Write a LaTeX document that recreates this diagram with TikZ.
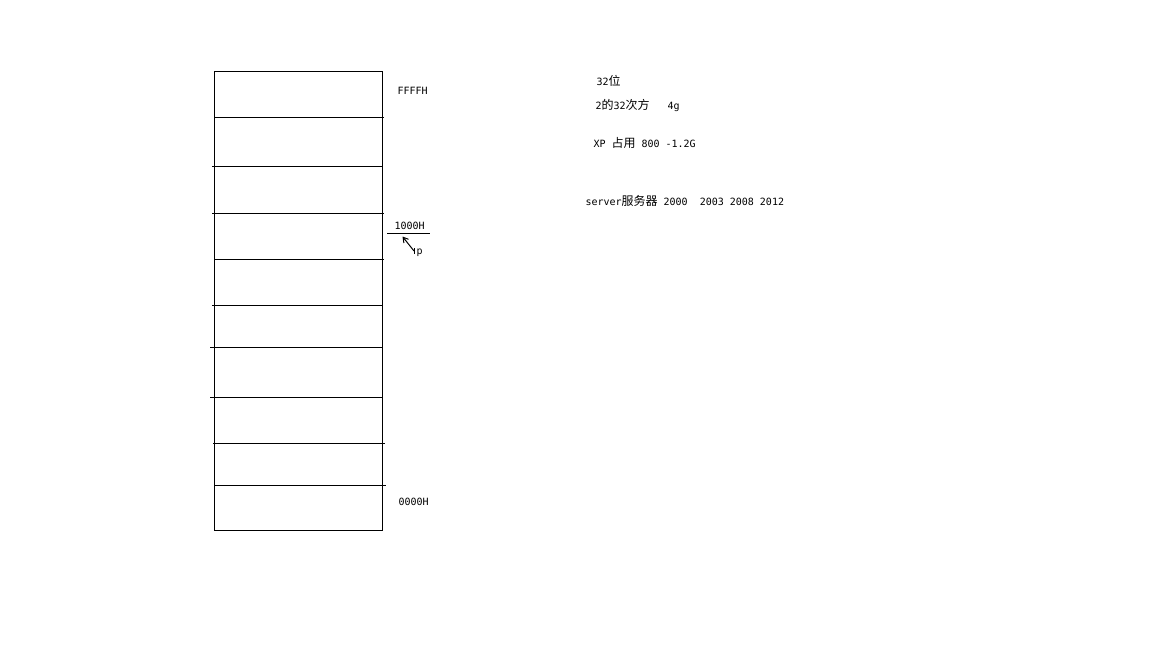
\documentclass[tikz,border=0pt]{standalone}
\usepackage{fontspec}
\setmonofont{DejaVu Sans Mono}
\newfontfamily\cjk{Noto Sans CJK SC}
\newcommand\zhtxt[1]{{\cjk\fontsize{12}{12}\selectfont #1}}
\usetikzlibrary{arrows.meta}
\begin{document}
\begin{tikzpicture}[x=1pt,y=-1pt,line width=1pt,
  lbl/.style={inner sep=0pt,anchor=base west,font=\ttfamily\fontsize{10}{12}\selectfont},
  divider/.style={line width=1pt}]
\useasboundingbox (0,0) rectangle (1175,659);
% memory column
\draw (214,71) rectangle (382,530);
\draw[divider] (214,117) -- (384,117);
\draw[divider] (212,166) -- (382,166);
\draw[divider] (212,213) -- (384,213);
\draw[divider] (214,259) -- (384,259);
\draw[divider] (212,305) -- (382,305);
\draw[divider] (210,347) -- (382,347);
\draw[divider] (210,397) -- (382,397);
\draw[divider] (213,443) -- (385,443);
\draw[divider] (214,485) -- (386,485);
% address labels
\node[lbl] (ffff) at (397,94) {FFFFH};
\node[lbl] (k1000) at (394,229) {1000H};
\node[lbl] (zero) at (398,505) {0000H};
\node[lbl] (p) at (416,254) {p};
% pointer mark
\coordinate (ls) at (387,233);
\coordinate (le) at (430,233);
\draw (ls) -- (le);
\coordinate (tk1) at (414,248);
\coordinate (tk2) at (414,254);
\draw (tk1) -- (tk2);
\coordinate (as) at (414,251);
\coordinate (ae) at (402.5,236.5);
\draw[-{Straight Barb[length=5pt,width=6pt]}] (as) -- (ae);
% notes
\node[lbl] (n1) at (596,85) {32\zhtxt{位}};
\node[lbl] (n2) at (595,109) {2\zhtxt{的}32\zhtxt{次方}\ \ \ 4g};
\node[lbl] (n3) at (593,147) {XP \zhtxt{占用} 800 -1.2G};
\node[lbl] (n4) at (585,205) {server\zhtxt{服务器} 2000\ \ 2003 2008 2012};
\end{tikzpicture}
\end{document}
